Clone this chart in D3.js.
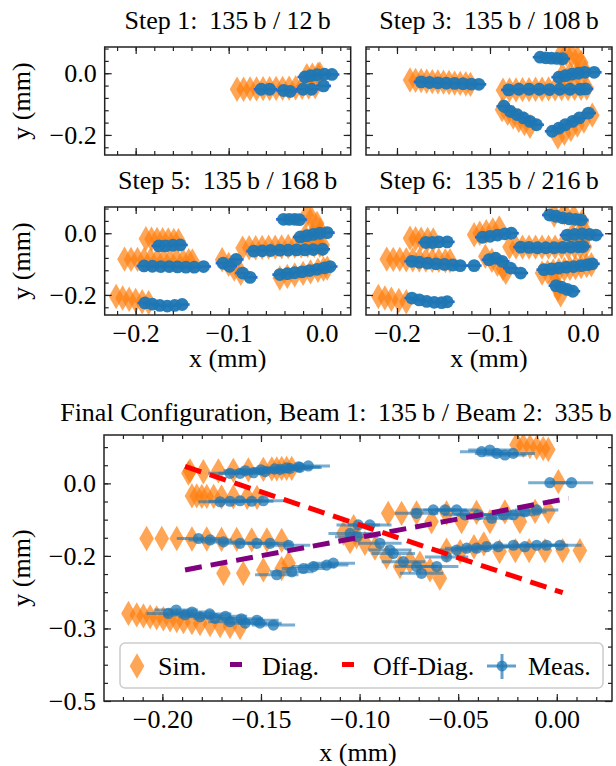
<!DOCTYPE html>
<html>
<head>
<meta charset="utf-8">
<script src="https://cdn.jsdelivr.net/npm/d3@7"></script>
<style>
  body { margin: 0; background: #fff; }
  text { font-family: "Liberation Serif", "Times New Roman", serif; fill: #000; }
</style>
</head>
<body>
<svg id="fig" width="616" height="766"></svg>
<script>
// ---------- data (mm) ----------
var stepTitles = ["Step 1: \u2009135\u2009b / 12\u2009b", "Step 3: \u2009135\u2009b / 108\u2009b",
                  "Step 5: \u2009135\u2009b / 168\u2009b", "Step 6: \u2009135\u2009b / 216\u2009b"];
var finalTitle = "Final Configuration, Beam 1: \u2009135\u2009b / Beam 2: \u2009335\u2009b";

var smallXMajor = [-0.2, -0.1, 0.0];
var smallYMajor = [-0.2, 0.0];
var finalXMajor = [-0.20, -0.15, -0.10, -0.05, 0.00];
var finalYMajor = [0.0, -0.15, -0.30, -0.45];
var finalYLabels = ["0.0", "\u22120.2", "\u22120.3", "\u22120.5"];

var legendNames = ["Sim.", "Diag.", "Off-Diag.", "Meas."];

// each chain = list of [x, y]
var step1Sim = [
  [[-0.091,-0.052],[-0.084,-0.052],[-0.077,-0.051],[-0.070,-0.051],[-0.063,-0.050],[-0.056,-0.050],[-0.049,-0.049],
   [-0.042,-0.049],[-0.035,-0.048],[-0.028,-0.047],[-0.021,-0.046],[-0.014,-0.045],[-0.007,-0.043]],
  [[-0.016,-0.008],[-0.010,-0.006],[-0.004,-0.004],[-0.002,-0.002]]
];
var step1Meas = [
  [[-0.065,-0.052],[-0.056,-0.052],[-0.041,-0.056],[-0.034,-0.059],[-0.020,-0.052],[-0.011,-0.052],[0.002,-0.041]],
  [[-0.018,-0.012],[-0.012,-0.008],[-0.005,-0.005],[0.003,-0.003],[0.011,-0.004]]
];

var step3Sim = [
  [[-0.186,-0.022],[-0.180,-0.023],[-0.174,-0.024],[-0.168,-0.026],[-0.162,-0.027],[-0.156,-0.028],[-0.150,-0.029],
   [-0.144,-0.030],[-0.138,-0.032],[-0.132,-0.033],[-0.126,-0.034],[-0.121,-0.036]],
  [[-0.086,-0.055],[-0.079,-0.054],[-0.072,-0.054],[-0.065,-0.053],[-0.058,-0.053],[-0.051,-0.052],[-0.044,-0.052],
   [-0.037,-0.051],[-0.030,-0.051],[-0.023,-0.050],[-0.016,-0.050],[-0.009,-0.049],[-0.002,-0.049],[0.004,-0.048]],
  [[-0.022,-0.006],[-0.014,-0.002],[-0.006,0.002],[0.002,0.006]],
  [[-0.024,0.060],[-0.018,0.062],[-0.012,0.058],[-0.006,0.050],[-0.002,0.035]],
  [[-0.087,-0.118],[-0.081,-0.130],[-0.075,-0.142],[-0.069,-0.153],[-0.063,-0.163],[-0.057,-0.172]],
  [[-0.027,-0.207],[-0.020,-0.195],[-0.013,-0.182],[-0.006,-0.168],[0.001,-0.155],[0.010,-0.136]]
];
var step3Meas = [
  [[-0.174,-0.028],[-0.165,-0.030],[-0.156,-0.031],[-0.147,-0.032],[-0.138,-0.033],[-0.129,-0.034],[-0.120,-0.035],[-0.112,-0.036]],
  [[-0.080,-0.054],[-0.069,-0.052],[-0.058,-0.052],[-0.047,-0.052],[-0.036,-0.053],[-0.025,-0.052],[-0.014,-0.052],[-0.003,-0.052],[0.003,-0.051]],
  [[-0.046,0.052],[-0.040,0.050],[-0.034,0.049],[-0.028,0.048],[-0.022,0.047]],
  [[-0.026,-0.013],[-0.019,-0.008],[-0.012,-0.003],[-0.005,0.000],[0.002,0.003],[0.012,0.003]],
  [[-0.085,-0.107],[-0.078,-0.124],[-0.071,-0.134],[-0.064,-0.145],[-0.057,-0.156],[-0.050,-0.167]],
  [[-0.033,-0.188],[-0.026,-0.178],[-0.019,-0.167],[-0.011,-0.156],[-0.004,-0.145],[0.006,-0.129]]
];

var step5Sim = [
  [[-0.189,-0.018],[-0.183,-0.019],[-0.177,-0.020],[-0.171,-0.021],[-0.165,-0.022],[-0.159,-0.023],[-0.154,-0.024]],
  [[-0.212,-0.084],[-0.205,-0.085],[-0.198,-0.085],[-0.191,-0.086],[-0.184,-0.086],[-0.177,-0.087],[-0.170,-0.087],
   [-0.163,-0.088],[-0.156,-0.088],[-0.149,-0.089],[-0.143,-0.089],[-0.139,-0.090]],
  [[-0.221,-0.205],[-0.214,-0.210],[-0.207,-0.214],[-0.200,-0.218],[-0.193,-0.222],[-0.186,-0.225]],
  [[-0.085,-0.048],[-0.078,-0.047],[-0.071,-0.047],[-0.064,-0.046],[-0.057,-0.045],[-0.050,-0.045],[-0.043,-0.044],
   [-0.036,-0.043],[-0.029,-0.042],[-0.022,-0.041],[-0.015,-0.040],[-0.008,-0.039],[-0.002,-0.039],[0.001,-0.038]],
  [[-0.107,-0.086],[-0.100,-0.101],[-0.094,-0.116],[-0.087,-0.130]],
  [[-0.016,0.059],[-0.011,0.048],[-0.005,0.032],[-0.002,0.011]],
  [[-0.018,-0.010],[-0.010,-0.006],[-0.002,-0.002]],
  [[-0.045,-0.145],[-0.037,-0.140],[-0.029,-0.135],[-0.020,-0.130],[-0.012,-0.125],[-0.004,-0.120],[0.002,-0.116],[0.006,-0.113]]
];
var step5Meas = [
  [[-0.175,-0.041],[-0.168,-0.041],[-0.160,-0.039],[-0.152,-0.038]],
  [[-0.191,-0.106],[-0.182,-0.107],[-0.173,-0.108],[-0.164,-0.108],[-0.155,-0.109],[-0.146,-0.110],[-0.137,-0.110],[-0.127,-0.108]],
  [[-0.190,-0.226],[-0.182,-0.230],[-0.174,-0.234],[-0.166,-0.236],[-0.158,-0.234],[-0.150,-0.231]],
  [[-0.073,-0.058],[-0.064,-0.057],[-0.055,-0.056],[-0.045,-0.055],[-0.036,-0.055],[-0.027,-0.054],[-0.018,-0.054],[-0.009,-0.053],[0.001,-0.052]],
  [[-0.106,-0.097],[-0.099,-0.107],[-0.092,-0.085],[-0.085,-0.129],[-0.077,-0.143]],
  [[-0.041,0.045],[-0.035,0.045],[-0.029,0.045],[-0.024,0.044]],
  [[-0.023,-0.012],[-0.016,-0.008],[-0.009,-0.004],[-0.002,0.000],[0.006,0.002]],
  [[-0.045,-0.134],[-0.037,-0.131],[-0.029,-0.128],[-0.021,-0.125],[-0.013,-0.121],[-0.005,-0.117],[0.003,-0.112],[0.009,-0.108]]
];

var step6Sim = [
  [[-0.186,-0.016],[-0.180,-0.018],[-0.174,-0.019],[-0.167,-0.020],[-0.161,-0.022]],
  [[-0.211,-0.084],[-0.204,-0.085],[-0.197,-0.085],[-0.190,-0.086],[-0.183,-0.086],[-0.176,-0.087],[-0.169,-0.087],
   [-0.162,-0.088],[-0.155,-0.088],[-0.148,-0.089],[-0.143,-0.089]],
  [[-0.220,-0.205],[-0.213,-0.210],[-0.206,-0.214],[-0.198,-0.218],[-0.190,-0.222]],
  [[-0.117,-0.005],[-0.111,0.000],[-0.104,0.005],[-0.097,0.011],[-0.090,0.017]],
  [[-0.105,-0.075],[-0.098,-0.088],[-0.092,-0.101],[-0.086,-0.115],[-0.083,-0.127]],
  [[-0.079,-0.045],[-0.072,-0.045],[-0.065,-0.045],[-0.058,-0.045],[-0.051,-0.045],[-0.044,-0.045],[-0.037,-0.045],
   [-0.030,-0.045],[-0.023,-0.045],[-0.016,-0.045],[-0.009,-0.044],[-0.003,-0.044],[0.002,-0.044]],
  [[-0.031,0.059],[-0.020,0.065],[-0.010,0.054],[-0.001,0.038]],
  [[-0.012,-0.008],[-0.004,-0.004],[0.004,-0.004]],
  [[-0.044,-0.129],[-0.038,-0.126],[-0.032,-0.123],[-0.026,-0.120],[-0.020,-0.117],[-0.014,-0.114],[-0.008,-0.111],
   [-0.002,-0.108],[0.004,-0.105],[0.009,-0.102]],
  [[-0.030,-0.160],[-0.027,-0.180],[-0.024,-0.200]]
];
var step6Meas = [
  [[-0.169,-0.030],[-0.162,-0.030],[-0.155,-0.028],[-0.146,-0.028]],
  [[-0.184,-0.091],[-0.176,-0.094],[-0.167,-0.097],[-0.158,-0.099],[-0.149,-0.101],[-0.140,-0.103],[-0.132,-0.105],[-0.117,-0.105]],
  [[-0.184,-0.210],[-0.176,-0.216],[-0.168,-0.221],[-0.160,-0.224],[-0.152,-0.225],[-0.146,-0.222]],
  [[-0.108,-0.013],[-0.100,-0.010],[-0.092,-0.006],[-0.084,-0.002],[-0.077,0.000]],
  [[-0.101,-0.086],[-0.094,-0.081],[-0.087,-0.091],[-0.078,-0.113],[-0.067,-0.129]],
  [[-0.067,-0.045],[-0.058,-0.046],[-0.049,-0.047],[-0.040,-0.047],[-0.031,-0.047],[-0.022,-0.046],[-0.013,-0.045],[-0.005,-0.044],[0.000,-0.043]],
  [[-0.036,0.059],[-0.029,0.055],[-0.022,0.050],[-0.015,0.047],[-0.008,0.045],[-0.002,0.043]],
  [[-0.017,-0.006],[-0.009,-0.004],[-0.001,-0.002],[0.007,-0.004],[0.014,-0.006]],
  [[-0.042,-0.118],[-0.034,-0.116],[-0.026,-0.113],[-0.018,-0.110],[-0.010,-0.108],[-0.002,-0.105],[0.005,-0.102],[0.010,-0.099]],
  [[-0.029,-0.170],[-0.023,-0.175],[-0.017,-0.182],[-0.011,-0.188]]
];

var finalSim = [
  [[-0.1868,0.021],[-0.1860,0.026],[-0.1792,0.024],[-0.1716,0.026],[-0.1640,0.027],[-0.1564,0.028],[-0.1488,0.029],
   [-0.1445,0.030],[-0.1420,0.030],[-0.1395,0.031],[-0.1370,0.031],[-0.1344,0.031]],
  [[-0.1850,-0.026],[-0.1826,-0.026],[-0.1800,-0.027],[-0.1775,-0.027],[-0.1740,-0.027],[-0.1700,-0.028],[-0.1640,-0.028],
   [-0.1570,-0.029],[-0.1520,-0.029]],
  [[-0.2080,-0.114],[-0.2003,-0.114],[-0.1927,-0.114],[-0.1850,-0.115],[-0.1775,-0.115],[-0.1700,-0.116],[-0.1623,-0.116],
   [-0.1547,-0.117],[-0.1470,-0.117],[-0.1395,-0.118]],
  [[-0.1690,-0.186],[-0.1590,-0.186],[-0.1488,-0.179],[-0.1395,-0.176],[-0.1360,-0.165]],
  [[-0.2172,-0.269],[-0.2130,-0.272],[-0.2096,-0.274],[-0.2062,-0.276],[-0.2029,-0.278],[-0.1995,-0.280],[-0.1961,-0.282],
   [-0.1927,-0.284],[-0.1893,-0.286],[-0.1850,-0.288],[-0.1809,-0.290],[-0.1758,-0.292],[-0.1707,-0.294],[-0.1657,-0.296],[-0.1606,-0.298]],
  [[-0.0204,0.080],[-0.0170,0.078],[-0.0136,0.076],[-0.0102,0.074],[-0.0069,0.072],[-0.0043,0.070]],
  [[0.0008,0.0035]],
  [[-0.0855,-0.062],[-0.0787,-0.062],[-0.0711,-0.061],[-0.0635,-0.079],[-0.0559,-0.061],[-0.0483,-0.079],[-0.0407,-0.060],
   [-0.0339,-0.079],[-0.0263,-0.059],[-0.0187,-0.079],[-0.0110,-0.058],[-0.0043,-0.058]],
  [[-0.0559,-0.138],[-0.0490,-0.141],[-0.0420,-0.131],[-0.0370,-0.125],[-0.0290,-0.141],[-0.0210,-0.139],[-0.0140,-0.139],
   [-0.0060,-0.139],[0.0030,-0.139],[0.0117,-0.139]],
  [[-0.1082,-0.103],[-0.1030,-0.0895],[-0.1048,-0.1206],[-0.1015,-0.110],[-0.0973,-0.124],[-0.0922,-0.134],[-0.0863,-0.152],
   [-0.0795,-0.172],[-0.0745,-0.162],[-0.0694,-0.165],[-0.0643,-0.179],[-0.0593,-0.196]]
];
var finalMeas = [
  [[-0.1657,0.0207],[-0.1606,0.0207],[-0.1538,0.0221],[-0.1479,0.0242],[-0.1403,0.029],[-0.1353,0.031],[-0.1302,0.033],[-0.1260,0.036]],
  [[-0.1580,0.026],[-0.1500,0.028],[-0.1430,0.030],[-0.1370,0.032],[-0.1310,0.034]],
  [[-0.1707,-0.038],[-0.1657,-0.037],[-0.1606,-0.036],[-0.1547,-0.037],[-0.1488,-0.036]],
  [[-0.1817,-0.114],[-0.1758,-0.117],[-0.1690,-0.121],[-0.1606,-0.124],[-0.1521,-0.124],[-0.1454,-0.124],[-0.1360,-0.128]],
  [[-0.1420,-0.189],[-0.1344,-0.183],[-0.1285,-0.176],[-0.1234,-0.172],[-0.1167,-0.169],[-0.1133,-0.165]],
  [[-0.1970,-0.269],[-0.1885,-0.272],[-0.1809,-0.276],[-0.1733,-0.279],[-0.1657,-0.286],[-0.1580,-0.289],[-0.1505,-0.289],[-0.1437,-0.293]],
  [[-0.1930,-0.262],[-0.1850,-0.266],[-0.1760,-0.270],[-0.1680,-0.275],[-0.1600,-0.280],[-0.1520,-0.283]],
  [[-0.0381,0.0655],[-0.0339,0.069],[-0.0305,0.062],[-0.0263,0.0586],[-0.0221,0.062]],
  [[-0.0035,0.0014],[0.0075,0.0014]],
  [[-0.0711,-0.062],[-0.0626,-0.055],[-0.0567,-0.055],[-0.0508,-0.055],[-0.0466,-0.065],[-0.0398,-0.065],[-0.0330,-0.072],
   [-0.0271,-0.065],[-0.0220,-0.065],[-0.0162,-0.059],[-0.0102,-0.055]],
  [[-0.0508,-0.138],[-0.0457,-0.134],[-0.0407,-0.134],[-0.0356,-0.131],[-0.0297,-0.131],[-0.0220,-0.128],[-0.0162,-0.131],
   [-0.0102,-0.128],[-0.0052,-0.128],[0.0016,-0.128]],
  [[-0.1048,-0.1036],[-0.1015,-0.1103],[-0.1007,-0.086],[-0.0948,-0.086],[-0.0897,-0.124],[-0.0846,-0.138],[-0.0829,-0.145],
   [-0.0778,-0.162],[-0.0711,-0.172],[-0.0686,-0.186],[-0.0609,-0.172],[-0.0559,-0.152]]
];
var smallXErr = 0.008;
var finalXErr = 0.011;

var diagLine = [[-0.1885, -0.179], [0.006, -0.031]];
var offDiagLine = [[-0.1885, 0.035], [0.003, -0.226]];

// ---------- drawing ----------
var svg = d3.select("#fig");
var FS = 26;
var orange = "#ff7f0e", blue = "#1f77b4";
var diamond = d3.symbol().type(d3.symbolDiamond).size(185);

function drawFrame(g, x, y, w, h, o) {
  var axes = [
    [d3.axisBottom, "translate(0," + h + ")", x, o.xMajor, o.xMinor, o.xFmt],
    [d3.axisTop, "translate(0,0)", x, o.xMajor, o.xMinor, null],
    [d3.axisLeft, "translate(0,0)", y, o.yMajor, o.yMinor, o.yFmt],
    [d3.axisRight, "translate(" + w + ",0)", y, o.yMajor, o.yMinor, null]
  ];
  axes.forEach(function(a) {
    var minor = g.append("g").attr("transform", a[1])
      .call(a[0](a[2]).tickValues(a[4]).tickSize(-4).tickFormat(""));
    var major = g.append("g").attr("transform", a[1])
      .call(a[0](a[2]).tickValues(a[3]).tickSize(-7)
        .tickPadding(a[0] === d3.axisLeft ? 8 : 9)
        .tickFormat(a[5] ? a[5] : ""));
    [minor, major].forEach(function(s) {
      s.select(".domain").remove();
      s.selectAll("line").attr("stroke", "#222").attr("stroke-width", 1.2);
      s.selectAll("text").style("font-size", FS + "px")
        .style("font-family", '"Liberation Serif", serif').attr("fill", "#000");
    });
  });
  g.append("rect").attr("width", w).attr("height", h)
    .attr("fill", "none").attr("stroke", "#222").attr("stroke-width", 1.5);
}

function drawPoints(g, x, y, sims, meas, xerr, small, clipId) {
  var d = g.append("g").attr("clip-path", "url(#" + clipId + ")");
  sims.forEach(function(chain) {
    d.selectAll(null).data(chain).enter().append("path")
      .attr("d", diamond)
      .attr("transform", function(p) { return "translate(" + x(p[0]) + "," + y(p[1]) + ")"; })
      .attr("fill", orange).attr("fill-opacity", 0.7);
  });
  meas.forEach(function(chain) {
    d.selectAll(null).data(chain).enter().append("line")
      .attr("x1", function(p) { return x(p[0] - xerr); })
      .attr("x2", function(p) { return x(p[0] + xerr); })
      .attr("y1", function(p) { return y(p[1]); })
      .attr("y2", function(p) { return y(p[1]); })
      .attr("stroke", small ? "#2460e8" : blue)
      .attr("stroke-opacity", small ? 1 : 0.6)
      .attr("stroke-width", small ? 2.6 : 3);
  });
  meas.forEach(function(chain) {
    d.selectAll(null).data(chain).enter().append("circle")
      .attr("cx", function(p) { return x(p[0]); })
      .attr("cy", function(p) { return y(p[1]); })
      .attr("r", small ? 6.4 : 5.6)
      .attr("fill", blue).attr("fill-opacity", small ? 0.95 : 0.75);
  });
  return d;
}

// ---- four step panels ----
var sw = 246, sh = 108;
var smallPos = [[104.7, 47], [366, 47], [104.7, 207], [366, 207]];
var smallSims = [step1Sim, step3Sim, step5Sim, step6Sim];
var smallMeas = [step1Meas, step3Meas, step5Meas, step6Meas];
var fmt1 = d3.format(".1f");

var sx = d3.scaleLinear().domain([-0.2333, 0.0312]).range([0, sw]);
var sy = d3.scaleLinear().domain([-0.265, 0.085]).range([sh, 0]);
var smallXMinor = d3.range(-0.22, 0.03, 0.02);
var smallYMinor = d3.range(-0.24, 0.09, 0.04);

var defs = svg.append("defs");

smallPos.forEach(function(pos, i) {
  var g = svg.append("g").attr("transform", "translate(" + pos[0] + "," + pos[1] + ")");
  defs.append("clipPath").attr("id", "clip" + i)
    .append("rect").attr("width", sw).attr("height", sh);
  drawPoints(g, sx, sy, smallSims[i], smallMeas[i], smallXErr, true, "clip" + i);
  drawFrame(g, sx, sy, sw, sh, {
    xMajor: smallXMajor, xMinor: smallXMinor, xFmt: i >= 2 ? fmt1 : null,
    yMajor: smallYMajor, yMinor: smallYMinor, yFmt: i % 2 === 0 ? fmt1 : null
  });
  g.append("text").attr("x", sw / 2).attr("y", -18)
    .attr("text-anchor", "middle").style("font-size", FS + "px").text(stepTitles[i]);
  if (i >= 2) {
    g.append("text").attr("x", sw / 2).attr("y", sh + 52)
      .attr("text-anchor", "middle").style("font-size", FS + "px").text("x (mm)");
  }
  if (i % 2 === 0) {
    g.append("text").attr("transform", "translate(" + (30 - pos[0]) + "," + (sh / 2) + ") rotate(-90)")
      .attr("text-anchor", "middle").style("font-size", FS + "px").text("y (mm)");
  }
});

// ---- final configuration panel ----
var fx0 = 104, fy0 = 435, fw = 508, fh = 266;
var fx = d3.scaleLinear().domain([-0.2296, 0.028]).range([0, fw]);
var fy = d3.scaleLinear().domain([-0.45, 0.1]).range([fh, 0]);
var fg = svg.append("g").attr("transform", "translate(" + fx0 + "," + fy0 + ")");
defs.append("clipPath").attr("id", "clipF").append("rect").attr("width", fw).attr("height", fh);

var dataLayer = drawPoints(fg, fx, fy, finalSim, finalMeas, finalXErr, false, "clipF");

var line = d3.line().x(function(p) { return fx(p[0]); }).y(function(p) { return fy(p[1]); });
dataLayer.append("path").attr("d", line(diagLine)).attr("fill", "none")
  .attr("stroke", "#800080").attr("stroke-width", 5).attr("stroke-dasharray", "17,9");
dataLayer.append("path").attr("d", line(offDiagLine)).attr("fill", "none")
  .attr("stroke", "#ff0000").attr("stroke-width", 5).attr("stroke-dasharray", "17,9");

drawFrame(fg, fx, fy, fw, fh, {
  xMajor: finalXMajor, xMinor: d3.range(-0.22, 0.025, 0.01),
  xFmt: d3.format(".2f"),
  yMajor: finalYMajor, yMinor: d3.range(-0.4125, 0.1, 0.0375),
  yFmt: function(v) { return finalYLabels[finalYMajor.indexOf(v)]; }
});

svg.append("text").attr("x", 336).attr("y", 421).attr("text-anchor", "middle")
  .style("font-size", FS + "px").text(finalTitle);
svg.append("text").attr("x", fx0 + fw / 2).attr("y", 761).attr("text-anchor", "middle")
  .style("font-size", FS + "px").text("x (mm)");
svg.append("text").attr("transform", "translate(30," + (fy0 + fh / 2) + ") rotate(-90)")
  .attr("text-anchor", "middle").style("font-size", FS + "px").text("y (mm)");

// ---- legend ----
var lg = svg.append("g");
lg.append("rect").attr("x", 120).attr("y", 643).attr("width", 483).attr("height", 45).attr("rx", 5)
  .attr("fill", "#fff").attr("fill-opacity", 0.8).attr("stroke", "#ccc").attr("stroke-width", 1.5);
lg.append("path").attr("d", diamond).attr("transform", "translate(137,666)")
  .attr("fill", orange).attr("fill-opacity", 0.7);
lg.append("rect").attr("x", 230).attr("y", 662).attr("width", 12).attr("height", 5).attr("fill", "#800080");
lg.append("rect").attr("x", 342).attr("y", 662).attr("width", 12).attr("height", 5).attr("fill", "#ff0000");
lg.append("line").attr("x1", 487).attr("x2", 516).attr("y1", 666).attr("y2", 666)
  .attr("stroke", blue).attr("stroke-opacity", 0.7).attr("stroke-width", 3);
lg.append("line").attr("x1", 502).attr("x2", 502).attr("y1", 654).attr("y2", 679)
  .attr("stroke", blue).attr("stroke-opacity", 0.7).attr("stroke-width", 3);
lg.append("circle").attr("cx", 502).attr("cy", 666).attr("r", 5.4).attr("fill", blue).attr("fill-opacity", 0.75);
var legX = [158, 262, 373, 528];
legendNames.forEach(function(n, i) {
  lg.append("text").attr("x", legX[i]).attr("y", 675).style("font-size", FS + "px").text(n);
});
</script>
</body>
</html>
